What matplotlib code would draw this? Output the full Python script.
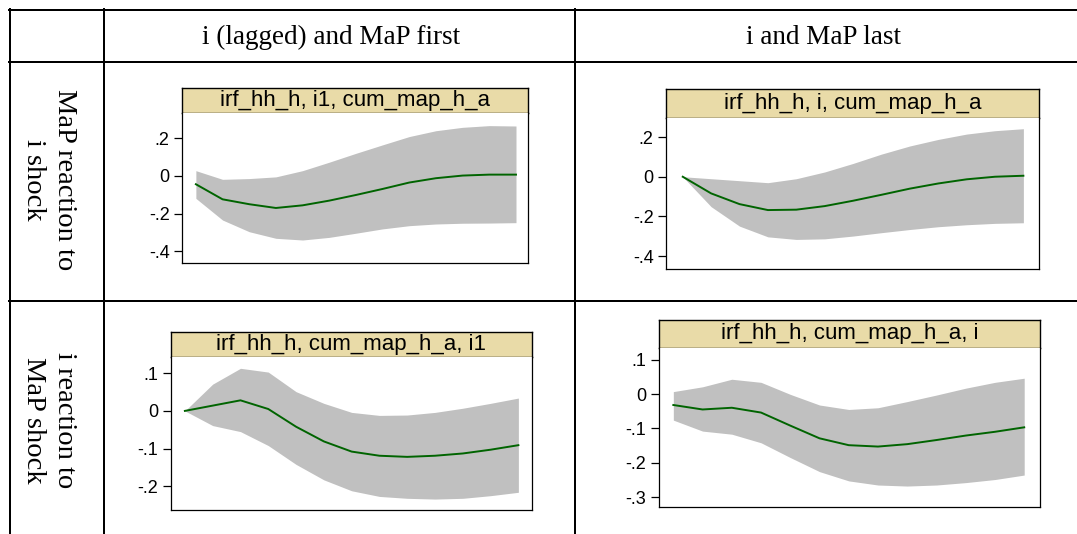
import matplotlib
matplotlib.use("Agg")
import matplotlib.pyplot as plt
from matplotlib.lines import Line2D

W, H = 1077, 534

# ---------------- data ----------------
horizon = list(range(13))

col_headers = ["i (lagged) and MaP first", "i and MaP last"]
row_labels = ["MaP reaction to\ni shock", "i reaction to\nMaP shock"]

titles = ["irf_hh_h, i1, cum_map_h_a", "irf_hh_h, i, cum_map_h_a",
          "irf_hh_h, cum_map_h_a, i1", "irf_hh_h, cum_map_h_a, i"]

# panel 1: MaP reaction to i shock (i lagged, MaP first)
irf_1 = [-0.044, -0.124, -0.150, -0.170, -0.156, -0.131, -0.101, -0.069, -0.035, -0.012, 0.002, 0.007, 0.007]
up_1 = [0.028, -0.018, -0.014, -0.005, 0.028, 0.073, 0.120, 0.165, 0.209, 0.240, 0.258, 0.267, 0.265]
lo_1 = [-0.119, -0.234, -0.296, -0.331, -0.340, -0.326, -0.304, -0.281, -0.264, -0.255, -0.251, -0.250, -0.248]

# panel 2: MaP reaction to i shock (i and MaP last)
irf_2 = [0.000, -0.084, -0.138, -0.168, -0.166, -0.148, -0.121, -0.091, -0.060, -0.034, -0.013, 0.000, 0.005]
up_2 = [0.000, -0.010, -0.020, -0.030, -0.010, 0.024, 0.067, 0.114, 0.155, 0.188, 0.215, 0.232, 0.242]
lo_2 = [0.000, -0.151, -0.249, -0.303, -0.316, -0.313, -0.299, -0.282, -0.266, -0.252, -0.242, -0.235, -0.232]

# panel 3: i reaction to MaP shock (i lagged, MaP first)
irf_3 = [0.000, 0.014, 0.028, 0.005, -0.042, -0.081, -0.108, -0.119, -0.122, -0.119, -0.113, -0.103, -0.091]
up_3 = [0.000, 0.071, 0.113, 0.103, 0.051, 0.020, -0.004, -0.012, -0.011, -0.004, 0.007, 0.020, 0.034]
lo_3 = [0.000, -0.039, -0.055, -0.092, -0.142, -0.183, -0.212, -0.227, -0.232, -0.234, -0.232, -0.225, -0.216]

# panel 4: i reaction to MaP shock (i and MaP last)
irf_4 = [-0.032, -0.045, -0.040, -0.054, -0.092, -0.129, -0.149, -0.153, -0.146, -0.134, -0.121, -0.110, -0.097]
up_4 = [0.007, 0.021, 0.043, 0.034, -0.001, -0.032, -0.045, -0.040, -0.022, -0.003, 0.017, 0.034, 0.046]
lo_4 = [-0.076, -0.108, -0.117, -0.142, -0.185, -0.226, -0.253, -0.265, -0.268, -0.265, -0.258, -0.249, -0.236]

yticks_1 = [0.2, 0.0, -0.2, -0.4]
yticks_2 = [0.2, 0.0, -0.2, -0.4]
yticks_3 = [0.1, 0.0, -0.1, -0.2]
yticks_4 = [0.1, 0.0, -0.1, -0.2, -0.3]
ytick_labels_1 = [".2", "0", "-.2", "-.4"]
ytick_labels_2 = [".2", "0", "-.2", "-.4"]
ytick_labels_3 = [".1", "0", "-.1", "-.2"]
ytick_labels_4 = [".1", "0", "-.1", "-.2", "-.3"]

# ---------------- layout (pixels) ----------------
fig = plt.figure(figsize=(W / 100, H / 100), dpi=100)
fig.patch.set_facecolor("white")

def fx(x):
    return x / W

def fy(y):
    return 1 - y / H

def rect(x0, y0, x1, y1):
    return [fx(x0), fy(y1), (x1 - x0) / W, (y1 - y0) / H]

# table grid
lw_table = 2.0 * 72 / 100
for x in [10, 104, 575]:
    fig.add_artist(Line2D([fx(x), fx(x)], [fy(9), fy(534)], color="black", lw=lw_table))
for y in [10, 62, 301]:
    fig.add_artist(Line2D([fx(9), fx(1077)], [fy(y), fy(y)], color="black", lw=lw_table))

serif = ["Liberation Serif", "DejaVu Serif"]
sans = ["Liberation Sans", "DejaVu Sans"]

fig.text(fx(331), fy(37), col_headers[0], ha="center", va="center",
         fontsize=19.5, family=serif)
fig.text(fx(823), fy(37), col_headers[1], ha="center", va="center",
         fontsize=19.5, family=serif)
fig.text(fx(49), fy(180), row_labels[0], ha="center", va="center",
         rotation=-90, fontsize=20.5, family=serif, linespacing=1.3, multialignment="center")
fig.text(fx(49), fy(420), row_labels[1], ha="center", va="center",
         rotation=-90, fontsize=20.5, family=serif, linespacing=1.3, multialignment="center")

panels = [
    dict(title=titles[0], irf=irf_1, up=up_1, lo=lo_1, yt=yticks_1, ytl=ytick_labels_1,
         tbox=(182, 88, 528, 113), pbox=(182, 113, 528, 263), ylim=(-0.462, 0.334), xlim=(-0.52, 12.45)),
    dict(title=titles[1], irf=irf_2, up=up_2, lo=lo_2, yt=yticks_2, ytl=ytick_labels_2,
         tbox=(666, 89, 1039, 118), pbox=(666, 118, 1039, 269), ylim=(-0.465, 0.296), xlim=(-0.59, 12.55)),
    dict(title=titles[2], irf=irf_3, up=up_3, lo=lo_3, yt=yticks_3, ytl=ytick_labels_3,
         tbox=(171, 332, 532, 357), pbox=(171, 357, 532, 510), ylim=(-0.263, 0.143), xlim=(-0.5, 12.49)),
    dict(title=titles[3], irf=irf_4, up=up_4, lo=lo_4, yt=yticks_4, ytl=ytick_labels_4,
         tbox=(659, 320, 1040, 348), pbox=(659, 348, 1040, 507), ylim=(-0.329, 0.134), xlim=(-0.49, 12.54)),
]

for p in panels:
    # title strip
    tx0, ty0, tx1, ty1 = p["tbox"]
    tax = fig.add_axes(rect(tx0, ty0, tx1, ty1))
    tax.set_facecolor("#E9DBA8")
    tax.set_xticks([])
    tax.set_yticks([])
    for s in tax.spines.values():
        s.set_color("black")
        s.set_linewidth(1.0)
    tax.text(0.5, 0.5, p["title"], ha="center", va="center", fontsize=16,
             family=sans, transform=tax.transAxes)

    # plot region
    ax = fig.add_axes(rect(*p["pbox"]))
    ax.fill_between(horizon, p["lo"], p["up"], color="#C0C0C0", lw=0)
    ax.plot(horizon, p["irf"], color="#006400", lw=1.4)
    ax.set_xlim(*p["xlim"])
    ax.set_ylim(*p["ylim"])
    ax.set_xticks([])
    ax.set_yticks(p["yt"])
    ax.set_yticklabels(p["ytl"], family=sans, fontsize=13)
    ax.tick_params(axis="y", direction="out", length=6, width=0.9, pad=3, colors="black")
    for name, s in ax.spines.items():
        s.set_color("black")
        s.set_linewidth(0.9)
    ax.spines["top"].set_visible(False)

fig.savefig("out.png", dpi=100)
